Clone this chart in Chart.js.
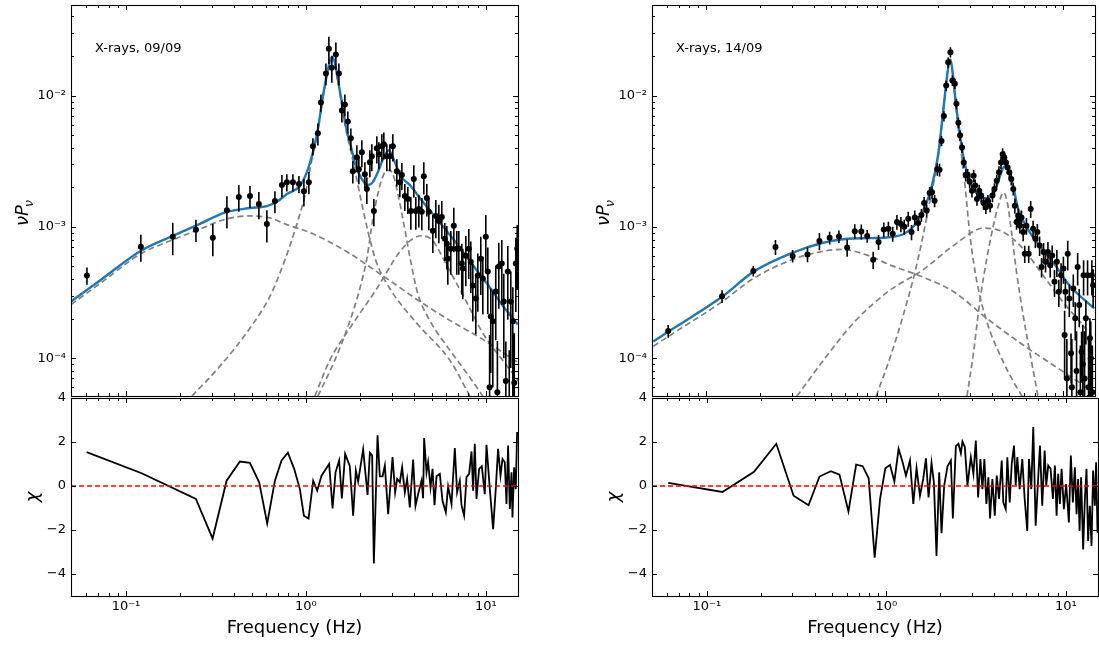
<!DOCTYPE html>
<html>
<head>
<meta charset="utf-8">
<script src="https://cdn.jsdelivr.net/npm/chart.js@4.4.1/dist/chart.umd.min.js"></script>
<style>
  html, body { margin: 0; padding: 0; background: #fff; }
  #figure { position: relative; width: 1099px; height: 648px; overflow: hidden; }
  #figure canvas { position: absolute; }
</style>
</head>
<body>
<div id="figure">
  <canvas id="left-top" width="540" height="400" style="left:0;top:0"></canvas>
  <canvas id="left-bottom" width="540" height="268" style="left:0;top:380px"></canvas>
  <canvas id="right-top" width="518" height="400" style="left:581px;top:0"></canvas>
  <canvas id="right-bottom" width="518" height="268" style="left:581px;top:380px"></canvas>
</div>
<script>
// Power spectra (top) with model components, and fit residuals (bottom), two X-ray epochs.
const FREQ_MIN = 0.0495;
const FREQ_MAX = 15.1;
const POWER_MIN = 5.15e-5;
const POWER_MAX = 0.0489;
const CHI_MIN = -5;
const CHI_MAX = 4;
const FONT = '"DejaVu Sans"';

const freqMajorTicks = [0.1, 1, 10];
const freqMajorLabels = ['10⁻¹', '10⁰', '10¹'];
const freqMinorTicks = [0.06, 0.07, 0.08, 0.09, 0.2, 0.3, 0.4, 0.5, 0.6, 0.7, 0.8, 0.9, 2, 3, 4, 5, 6, 7, 8, 9];
const powerMajorTicks = [1e-4, 1e-3, 1e-2];
const powerMajorLabels = ['10⁻⁴', '10⁻³', '10⁻²'];
const powerMinorTicks = [6e-5, 7e-5, 8e-5, 9e-5, 2e-4, 3e-4, 4e-4, 5e-4, 6e-4, 7e-4, 8e-4, 9e-4,
    2e-3, 3e-3, 4e-3, 5e-3, 6e-3, 7e-3, 8e-3, 9e-3, 2e-2, 3e-2, 4e-2];
const chiTicks = [-4, -2, 0, 2, 4];
const chiLabels = ['−4', '−2', '0', '2', '4'];
const zeroLineFreq = [FREQ_MIN, FREQ_MAX];
const zeroLine = [0, 0];

// ---- 09/09 ----
const leftFreq = [0.0607, 0.121, 0.182, 0.245, 0.304, 0.364, 0.424, 0.489, 0.548, 0.607,
    0.673, 0.736, 0.784, 0.847, 0.915, 0.975, 1.039, 1.094, 1.166, 1.212,
    1.292, 1.342, 1.394, 1.468, 1.526, 1.585, 1.647, 1.711, 1.778, 1.824,
    1.920, 1.970, 2.047, 2.127, 2.182, 2.268, 2.326, 2.387, 2.480, 2.545,
    2.644, 2.712, 2.818, 2.929, 3.043, 3.203, 3.328, 3.415, 3.548, 3.687,
    3.831, 3.981, 4.084, 4.244, 4.410, 4.524, 4.700, 4.823, 5.076, 5.275,
    5.482, 5.695, 5.918, 6.072, 6.150, 6.390, 6.640, 6.900, 7.079, 7.356,
    7.450, 7.743, 8.045, 8.254, 8.468, 8.799, 9.027, 9.380, 9.624, 10.0,
    10.26, 10.5, 10.66, 10.94, 11.36, 11.6, 11.81, 12.27, 12.59, 12.92,
    13.25, 13.5, 13.77, 14.13, 14.4, 14.68, 14.95];
const leftPower = [4.26e-4, 7.05e-4, 8.40e-4, 9.49e-4, 8.26e-4, 1.34e-3, 1.69e-3, 1.72e-3, 1.49e-3, 1.05e-3,
    1.57e-3, 2.08e-3, 2.19e-3, 2.19e-3, 2.12e-3, 1.87e-3, 2.19e-3, 4.11e-3, 5.15e-3, 8.85e-3,
    1.47e-2, 2.27e-2, 1.63e-2, 2.05e-2, 1.47e-2, 7.70e-3, 8.55e-3, 6.35e-3, 4.72e-3, 2.65e-3,
    3.39e-3, 2.75e-3, 3.70e-3, 2.52e-3, 1.94e-3, 3.11e-3, 3.45e-3, 1.32e-3, 3.97e-3, 3.57e-3,
    4.11e-3, 4.25e-3, 3.45e-3, 3.45e-3, 4.11e-3, 2.65e-3, 2.19e-3, 2.48e-3, 1.72e-3, 1.63e-3,
    1.32e-3, 2.31e-3, 1.32e-3, 1.37e-3, 1.30e-3, 2.43e-3, 1.66e-3, 1.30e-3, 9.33e-4, 1.21e-3,
    1.11e-3, 1.19e-3, 8.11e-4, 7.43e-4, 5.72e-4, 6.81e-4, 1.02e-3, 6.81e-4, 6.81e-4, 5.25e-4,
    4.81e-4, 6.03e-4, 6.81e-4, 5.43e-4, 3.57e-4, 2.85e-4, 4.26e-4, 5.72e-4, 4.04e-4, 8.40e-4,
    4.56e-4, 6.0e-5, 2.08e-4, 1.91e-4, 3.22e-4, 5.5e-5, 4.98e-4, 5.25e-4, 2.70e-4, 6.70e-5,
    4.56e-4, 4.5e-5, 2.70e-4, 1.91e-4, 6.5e-5, 5.25e-4, 6.81e-4];
const leftError = [6.4e-5, 1.64e-4, 2.33e-4, 1.81e-4, 2.29e-4, 3.7e-4, 3.9e-4, 3.3e-4, 3.5e-4, 2.9e-4,
    3.0e-4, 4.0e-4, 3.3e-4, 3.3e-4, 3.2e-4, 4.4e-4, 4.2e-4, 6.2e-4, 9.8e-4, 1.33e-3,
    2.8e-3, 5.3e-3, 3.8e-3, 4.8e-3, 2.8e-3, 1.47e-3, 1.63e-3, 1.21e-3, 9.0e-4, 5.1e-4,
    7.9e-4, 6.4e-4, 8.6e-4, 5.9e-4, 4.5e-4, 7.2e-4, 8.0e-4, 3.1e-4, 9.3e-4, 8.3e-4,
    9.6e-4, 9.9e-4, 8.0e-4, 8.0e-4, 9.6e-4, 6.2e-4, 5.1e-4, 5.8e-4, 4.0e-4, 3.8e-4,
    3.7e-4, 6.4e-4, 3.7e-4, 3.8e-4, 3.6e-4, 6.7e-4, 4.6e-4, 3.6e-4, 3.0e-4, 3.9e-4,
    3.6e-4, 3.8e-4, 2.6e-4, 2.7e-4, 2.1e-4, 2.5e-4, 3.8e-4, 2.5e-4, 2.5e-4, 2.2e-4,
    2.0e-4, 2.5e-4, 2.8e-4, 2.3e-4, 1.67e-4, 1.33e-4, 2.0e-4, 2.7e-4, 1.89e-4, 3.9e-4,
    2.4e-4, 9.0e-5, 1.31e-4, 1.31e-4, 1.85e-4, 8.0e-5, 2.6e-4, 2.7e-4, 1.70e-4, 6.7e-5,
    2.6e-4, 7.0e-5, 1.86e-4, 1.55e-4, 9.0e-5, 3.0e-4, 3.5e-4];

const leftModelFreq = [0.0495, 0.0717, 0.1211, 0.1824, 0.2448, 0.3640, 0.4885, 0.6070, 0.6898, 0.7843,
    0.926, 1.013, 1.094, 1.166, 1.243, 1.325, 1.394, 1.449, 1.506, 1.585,
    1.668, 1.778, 1.896, 2.047, 2.209, 2.357, 2.512, 2.679, 2.818, 2.891,
    2.967, 3.124, 3.328, 3.781, 4.466, 5.343, 6.310, 7.450, 8.924, 10.53, 12.39, 15.06];
const leftModel = [2.70e-4, 3.90e-4, 6.58e-4, 8.55e-4, 1.02e-3, 1.30e-3, 1.39e-3, 1.44e-3, 1.55e-3, 1.78e-3,
    2.05e-3, 2.61e-3, 3.70e-3, 5.53e-3, 9.83e-3, 1.57e-2, 1.97e-2, 1.78e-2, 1.32e-2, 8.85e-3,
    5.82e-3, 4.11e-3, 2.90e-3, 2.31e-3, 2.08e-3, 2.19e-3, 2.61e-3, 3.27e-3, 3.70e-3, 3.83e-3,
    3.64e-3, 3.11e-3, 2.48e-3, 2.08e-3, 1.55e-3, 1.15e-3, 8.70e-4, 6.47e-4, 4.65e-4, 3.45e-4, 2.52e-4, 1.81e-4];
const leftBroadFreq = [0.0495, 0.0717, 0.1211, 0.1824, 0.2448, 0.3640, 0.4885, 0.631, 0.7843, 1.094,
    1.690, 2.209, 2.929, 4.137, 6.310, 9.624, 15.2];
const leftBroad = [2.56e-4, 3.70e-4, 6.24e-4, 7.97e-4, 9.33e-4, 1.15e-3, 1.21e-3, 1.17e-3, 1.04e-3, 8.85e-4,
    6.47e-4, 5.07e-4, 3.90e-4, 2.80e-4, 1.94e-4, 1.39e-4, 9.17e-5];
const leftQpo1Freq = [0.2326, 0.3331, 0.4885, 0.631, 0.7264, 0.8149, 0.926, 0.987, 1.094, 1.166,
    1.243, 1.325, 1.394, 1.449, 1.506, 1.585, 1.668, 1.778, 1.896, 2.047,
    2.209, 2.448, 2.929, 4.137, 6.310, 8.148];
const leftQpo1 = [5.15e-5, 8.69e-5, 1.69e-4, 2.95e-4, 4.64e-4, 7.18e-4, 1.25e-3, 1.72e-3, 3.57e-3, 5.43e-3,
    9.48e-3, 1.52e-2, 1.91e-2, 1.72e-2, 1.28e-2, 8.40e-3, 5.53e-3, 3.77e-3, 2.48e-3, 1.49e-3,
    9.33e-4, 5.53e-4, 3.39e-4, 1.84e-4, 9.66e-5, 5.15e-5];
const leftQpo2Freq = [1.166, 1.449, 1.754, 1.995, 2.182, 2.357, 2.512, 2.644, 2.780, 2.929,
    3.085, 3.247, 3.503, 3.781, 4.184, 4.878, 6.310, 7.834, 9.624];
const leftQpo2 = [5.15e-5, 9.66e-5, 1.91e-4, 3.39e-4, 5.73e-4, 1.15e-3, 1.78e-3, 2.31e-3, 2.65e-3, 2.70e-3,
    2.39e-3, 1.78e-3, 1.05e-3, 5.93e-4, 3.11e-4, 1.94e-4, 1.15e-4, 7.70e-5, 5.15e-5];
const leftHumpFreq = [1.122, 1.359, 1.754, 2.481, 3.328, 3.924, 4.410, 5.076, 6.072, 7.638, 9.624, 12.39, 15.2];
const leftHump = [5.15e-5, 9.66e-5, 1.69e-4, 3.39e-4, 6.47e-4, 8.11e-4, 8.55e-4, 7.83e-4, 5.07e-4, 2.85e-4,
    1.55e-4, 9.66e-5, 6.70e-5];

const leftChiFreq = [0.0605, 0.1222, 0.2448, 0.3031, 0.3626, 0.4299, 0.4885, 0.5502, 0.6095, 0.6727,
    0.7328, 0.7943, 0.8610, 0.9261, 0.9747, 1.035, 1.098, 1.156, 1.222, 1.347,
    1.407, 1.462, 1.531, 1.585, 1.653, 1.755, 1.831, 1.896, 1.952, 2.081,
    2.202, 2.268, 2.335, 2.387, 2.502, 2.577, 2.668, 2.747, 2.866, 3.032,
    3.134, 3.216, 3.328, 3.428, 3.548, 3.654, 3.782, 3.946, 4.068, 4.205,
    4.393, 4.484, 4.542, 4.683, 4.780, 4.930, 5.057, 5.188, 5.322, 5.552,
    5.747, 5.995, 6.174, 6.448, 6.726, 6.927, 7.170, 7.328, 7.576, 7.814,
    8.077, 8.330, 8.500, 8.687, 8.878, 9.180, 9.501, 9.872, 10.09, 10.53,
    10.98, 11.36, 11.70, 12.07, 12.38, 12.75, 13.03, 13.30, 13.60, 13.90,
    14.07, 14.37, 14.68, 14.93];
const leftChi = [1.54, 0.58, -0.59, -2.39, 0.24, 1.11, 1.05, 0.17, -1.70, 0.24,
    1.16, 1.51, 0.78, -0.14, -1.35, -1.48, 0.24, -0.21, 0.47, 1.0,
    -1.02, 0.62, 1.16, -0.56, 1.46, 0.9, -1.35, 0.7, 0.2, 1.66,
    -0.41, 1.51, 1.39, -3.52, 2.30, 0.44, 0.44, 0.93, -1.28, 1.31,
    -0.29, 0.32, 0.17, 0.85, -0.29, 0.32, -0.97, 1.2, -0.9, -0.37,
    0.24, -0.56, 2.18, 0.62, 1.08, -0.06, 0.78, -0.87, 0.44, 0.55,
    -0.67, -1.2, -0.02, -0.82, 1.72, -0.29, 0.24, -0.87, -1.35, 0.40,
    0.55, 1.57, -0.21, 1.92, -0.59, 0.78, 0.9, -0.37, 1.87, -0.14,
    -1.96, -0.14, 1.69, 0.47, 1.23, 1.08, -0.82, 1.84, -1.05, 0.62,
    -1.43, 0.85, -0.14, 2.45];

// ---- 14/09 ----
const rightFreq = [0.0610, 0.1223, 0.1832, 0.2438, 0.3043, 0.3687, 0.4300, 0.4907, 0.5533, 0.6151,
    0.6788, 0.7386, 0.7975, 0.8610, 0.9226, 0.9872, 1.048, 1.108, 1.170, 1.232,
    1.286, 1.354, 1.413, 1.473, 1.539, 1.605, 1.662, 1.718, 1.785, 1.841,
    1.903, 1.970, 2.029, 2.081, 2.146, 2.210, 2.268, 2.335, 2.395, 2.471,
    2.522, 2.587, 2.644, 2.712, 2.772, 2.844, 2.917, 2.993, 3.083, 3.150,
    3.216, 3.287, 3.384, 3.472, 3.580, 3.687, 3.782, 3.896, 4.017, 4.121,
    4.244, 4.370, 4.484, 4.582, 4.683, 4.779, 4.885, 4.992, 5.121, 5.255,
    5.363, 5.482, 5.602, 5.718, 5.844, 5.972, 6.095, 6.229, 6.416, 6.582,
    6.789, 6.991, 7.172, 7.385, 7.576, 7.773, 7.974, 8.222, 8.468, 8.687,
    8.948, 9.226, 9.465, 9.747, 10.04, 10.2, 10.30, 10.5, 10.62, 10.84,
    11.08, 11.2, 11.41, 11.70, 11.9, 12.07, 12.32, 12.5, 12.70, 12.9,
    13.03, 13.2, 13.42, 13.72, 13.9, 14.0, 14.13, 14.3, 14.50, 14.6, 14.74];
const rightPower = [1.61e-4, 2.96e-4, 4.61e-4, 7.02e-4, 6.00e-4, 6.17e-4, 7.80e-4, 8.26e-4, 8.45e-4, 6.97e-4,
    9.27e-4, 9.20e-4, 8.51e-4, 5.62e-4, 7.66e-4, 9.54e-4, 9.66e-4, 8.85e-4, 1.09e-3, 1.05e-3,
    1.00e-3, 1.15e-3, 9.12e-4, 1.18e-3, 1.07e-3, 1.23e-3, 1.52e-3, 1.33e-3, 1.81e-3, 1.83e-3,
    1.58e-3, 2.75e-3, 2.72e-3, 4.51e-3, 6.97e-3, 1.19e-2, 1.79e-2, 2.14e-2, 1.30e-2, 1.23e-2,
    8.65e-3, 6.21e-3, 4.98e-3, 4.02e-3, 3.09e-3, 2.48e-3, 2.49e-3, 2.20e-3, 1.88e-3, 2.45e-3,
    2.06e-3, 1.63e-3, 1.88e-3, 1.73e-3, 1.52e-3, 1.41e-3, 1.58e-3, 1.45e-3, 1.73e-3, 1.94e-3,
    2.24e-3, 2.60e-3, 3.09e-3, 3.57e-3, 3.37e-3, 3.09e-3, 2.83e-3, 2.60e-3, 2.31e-3, 1.94e-3,
    1.45e-3, 1.09e-3, 1.22e-3, 1.02e-3, 1.18e-3, 9.12e-4, 6.24e-4, 1.02e-3, 6.24e-4, 1.37e-3,
    9.66e-4, 8.11e-4, 9.12e-4, 7.22e-4, 4.95e-4, 6.43e-4, 5.41e-4, 6.43e-4, 5.09e-4, 6.06e-4,
    3.81e-4, 5.41e-4, 3.20e-4, 4.28e-4, 4.81e-4, 1.5e-4, 3.20e-4, 7.0e-5, 6.24e-4, 2.85e-4,
    1.09e-4, 6.0e-5, 3.39e-4, 2.01e-4, 8.0e-5, 4.95e-4, 2.54e-4, 5.5e-5, 1.12e-4, 9.0e-5,
    4.28e-4, 7.0e-5, 2.01e-4, 4.28e-4, 6.0e-5, 5.0e-5, 1.42e-4, 1.0e-4, 4.28e-4, 5.5e-5, 3.59e-4];
const rightError = [1.8e-5, 3.3e-5, 4.2e-5, 9.1e-5, 6.6e-5, 8.0e-5, 1.17e-4, 9.1e-5, 9.3e-5, 1.05e-4,
    1.2e-4, 1.2e-4, 9.4e-5, 8.4e-5, 1.0e-4, 1.24e-4, 1.26e-4, 1.15e-4, 1.4e-4, 1.4e-4,
    1.3e-4, 1.5e-4, 1.2e-4, 1.5e-4, 1.4e-4, 1.35e-4, 1.7e-4, 1.5e-4, 2.0e-4, 2.0e-4,
    1.7e-4, 3.0e-4, 3.0e-4, 4.1e-4, 6.3e-4, 1.08e-3, 1.6e-3, 1.9e-3, 1.2e-3, 1.1e-3,
    7.9e-4, 5.7e-4, 4.5e-4, 3.7e-4, 2.8e-4, 2.7e-4, 2.7e-4, 2.4e-4, 2.1e-4, 2.7e-4,
    2.3e-4, 1.8e-4, 2.1e-4, 1.9e-4, 1.7e-4, 1.55e-4, 1.7e-4, 1.6e-4, 1.9e-4, 2.1e-4,
    2.5e-4, 2.9e-4, 3.4e-4, 3.9e-4, 3.7e-4, 3.4e-4, 3.1e-4, 2.9e-4, 2.5e-4, 2.1e-4,
    1.9e-4, 1.4e-4, 1.6e-4, 1.3e-4, 1.5e-4, 1.37e-4, 9.4e-5, 1.5e-4, 9.4e-5, 2.0e-4,
    1.45e-4, 1.2e-4, 1.37e-4, 1.23e-4, 8.4e-5, 1.1e-4, 9.2e-5, 1.23e-4, 9.7e-5, 1.16e-4,
    8.9e-5, 1.26e-4, 7.5e-5, 1.0e-4, 1.12e-4, 8.0e-5, 8.1e-5, 7.0e-5, 1.58e-4, 7.9e-5,
    4.5e-5, 8.0e-5, 9.4e-5, 6.5e-5, 8.0e-5, 1.37e-4, 8.2e-5, 7.0e-5, 4.7e-5, 9.0e-5,
    1.28e-4, 9.0e-5, 7.4e-5, 1.28e-4, 8.0e-5, 7.0e-5, 5.9e-5, 9.0e-5, 1.28e-4, 7.0e-5, 1.16e-4];

const rightModelFreq = [0.0503, 0.0610, 0.1223, 0.1832, 0.3043, 0.4300, 0.6151, 0.8391, 1.084, 1.286,
    1.462, 1.626, 1.771, 1.912, 2.013, 2.100, 2.191, 2.288, 2.335, 2.417,
    2.490, 2.600, 2.712, 2.891, 3.150, 3.580, 3.896, 4.244, 4.624, 4.823,
    5.140, 5.602, 6.499, 8.767, 10.84, 14.93];
const rightModel = [1.34e-4, 1.59e-4, 2.93e-4, 4.54e-4, 6.35e-4, 7.43e-4, 8.11e-4, 8.20e-4, 8.35e-4, 8.85e-4,
    1.02e-3, 1.29e-3, 1.73e-3, 2.60e-3, 3.90e-3, 6.58e-3, 1.11e-2, 1.77e-2, 1.88e-2, 1.40e-2,
    9.33e-3, 5.85e-3, 3.90e-3, 2.60e-3, 1.94e-3, 1.65e-3, 1.68e-3, 2.06e-3, 2.83e-3, 2.91e-3,
    2.31e-3, 1.37e-3, 9.12e-4, 5.41e-4, 3.59e-4, 2.39e-4];
const rightBroadFreq = [0.0503, 0.0610, 0.1223, 0.1832, 0.3043, 0.4300, 0.5720, 0.8046, 1.084, 1.626,
    2.437, 3.733, 5.970, 9.953, 14.89];
const rightBroad = [1.23e-4, 1.46e-4, 2.69e-4, 4.04e-4, 5.65e-4, 6.43e-4, 6.73e-4, 6.06e-4, 5.09e-4, 4.16e-4,
    3.20e-4, 2.01e-4, 1.26e-4, 7.93e-5, 5.52e-5];
const rightQpo1Freq = [0.8948, 1.084, 1.286, 1.462, 1.626, 1.771, 1.912, 2.013, 2.100, 2.191,
    2.288, 2.335, 2.417, 2.490, 2.600, 2.712, 2.830, 3.020, 3.287, 3.733,
    4.426, 5.255, 5.970];
const rightQpo1 = [5.13e-5, 1.06e-4, 2.26e-4, 4.28e-4, 8.11e-4, 1.45e-3, 2.45e-3, 3.79e-3, 6.35e-3, 1.07e-2,
    1.72e-2, 1.81e-2, 1.35e-2, 8.81e-3, 5.22e-3, 3.27e-3, 1.94e-3, 8.11e-4, 3.81e-4, 1.90e-4,
    1.06e-4, 6.65e-5, 4.98e-5];
const rightHumpFreq = [0.3215, 0.4624, 0.6788, 1.039, 1.626, 2.437, 3.580, 4.624, 5.970, 7.711, 9.953, 12.86, 15.09];
const rightHump = [5.13e-5, 1.0e-4, 1.90e-4, 3.20e-4, 4.67e-4, 7.22e-4, 9.77e-4, 9.12e-4, 6.81e-4, 4.28e-4,
    2.69e-4, 1.79e-4, 1.34e-4];
const rightQpo2Freq = [2.891, 3.150, 3.431, 3.733, 4.063, 4.334, 4.624, 4.866, 5.140, 5.482, 5.970, 6.499, 7.234];
const rightQpo2 = [5.13e-5, 1.12e-4, 2.85e-4, 5.73e-4, 1.02e-3, 1.45e-3, 1.83e-3, 1.54e-3, 9.12e-4, 4.54e-4,
    2.13e-4, 1.12e-4, 5.13e-5];

const rightChiFreq = [0.0610, 0.1222, 0.1832, 0.2438, 0.3043, 0.3687, 0.4244, 0.4904, 0.5482, 0.6151,
    0.6788, 0.7385, 0.7973, 0.8610, 0.9226, 0.9872, 1.048, 1.108, 1.170, 1.232,
    1.286, 1.354, 1.413, 1.473, 1.539, 1.605, 1.662, 1.718, 1.785, 1.841,
    1.903, 1.970, 2.029, 2.100, 2.191, 2.288, 2.347, 2.439, 2.522, 2.600,
    2.654, 2.737, 2.830, 2.956, 3.055, 3.150, 3.245, 3.342, 3.428, 3.517,
    3.608, 3.701, 3.782, 3.896, 4.017, 4.121, 4.244, 4.393, 4.484, 4.624,
    4.720, 4.866, 4.992, 5.140, 5.255, 5.363, 5.531, 5.718, 5.896, 6.095,
    6.229, 6.416, 6.582, 6.789, 6.991, 7.172, 7.385, 7.616, 7.773, 7.974,
    8.222, 8.468, 8.687, 8.878, 9.062, 9.261, 9.465, 9.747, 10.04, 10.39,
    10.66, 10.94, 11.22, 11.47, 11.70, 11.92, 12.16, 12.48, 12.75, 13.03,
    13.30, 13.60, 13.90, 14.18, 14.50, 14.74, 15.01];
const rightChi = [0.14, -0.27, 0.65, 1.92, -0.44, -0.87, 0.43, 0.67, 0.52, -1.16,
    0.97, 0.90, 0.35, -3.26, -0.59, 0.81, 0.96, 0.20, 1.69, 1.08,
    0.47, 1.16, -0.82, 0.81, -0.44, 0.32, 1.26, -0.52, 1.05, 0.14,
    -3.18, 0.62, -2.15, 0.02, 0.90, 1.16, -1.48, 1.81, 1.92, 1.49,
    2.02, 1.77, 0.02, 1.31, 0.55, 2.07, -0.52, 1.23, -0.14, 1.23,
    -0.82, 0.40, -1.48, 0.32, -1.35, 0.47, -0.59, 1.16, -0.75, -1.05,
    1.31, -0.75, 1.00, 1.84, 0.02, 1.31, -0.14, 1.23, -0.59, -2.04,
    1.23, -0.14, 2.68, -1.81, 0.17, 1.84, -0.90, 1.61, 0.02, 0.93,
    0.78, -0.59, 0.93, -1.35, 0.55, -0.82, 0.78, -1.05, 0.09, -1.66,
    1.39, -0.75, 0.85, -1.28, 0.32, -2.04, 0.40, -2.88, -0.67, 0.78,
    -2.50, -0.90, -2.72, 0.70, -0.90, 1.08, -2.12];

function toPoints(xs, ys) {
    return xs.map((x, i) => ({ x, y: ys[i] }));
}

function curve(xs, ys, color, width, dash, order, smooth) {
    return {
        type: 'line',
        data: toPoints(xs, ys),
        borderColor: color,
        borderWidth: width,
        borderDash: dash,
        pointRadius: 0,
        fill: false,
        tension: 0,
        cubicInterpolationMode: smooth ? 'monotone' : 'default',
        order,
        clip: 0
    };
}

// Vertical error bars under the data markers, through the y scale.
const errorBarPlugin = {
    id: 'errorBars',
    beforeDatasetDraw(chart, args) {
        const ds = chart.data.datasets[args.index];
        if (!ds.errors) return;
        const { ctx, chartArea: area } = chart;
        const yScale = chart.scales[args.meta.yAxisID];
        ctx.save();
        ctx.beginPath();
        ctx.rect(area.left, area.top, area.right - area.left, area.bottom - area.top);
        ctx.clip();
        ctx.strokeStyle = '#000';
        ctx.lineWidth = 1.6;
        ctx.beginPath();
        args.meta.data.forEach((pt, i) => {
            const value = ds.data[i].y;
            const err = ds.errors[i];
            const upper = yScale.getPixelForValue(value + err);
            const lower = value - err > 0 ? yScale.getPixelForValue(value - err) : area.bottom + 5;
            ctx.moveTo(pt.x, lower);
            ctx.lineTo(pt.x, upper);
        });
        ctx.stroke();
        ctx.restore();
    }
};

// Box around the axes with inward ticks on all four sides.
const framePlugin = {
    id: 'frame',
    afterDatasetsDraw(chart, args, opts) {
        const { ctx, chartArea: area, scales } = chart;
        const xs = scales.x;
        const ys = scales.y;
        const yMajor = opts.panel === 'power' ? powerMajorTicks : chiTicks;
        const yMinor = opts.panel === 'power' ? powerMinorTicks : [];
        ctx.save();
        ctx.strokeStyle = '#000';
        ctx.lineWidth = 1;
        ctx.beginPath();
        const xTick = (v, len) => {
            const p = xs.getPixelForValue(v);
            if (p < area.left + 1 || p > area.right - 1) return;
            const px = Math.round(p) + 0.5;
            ctx.moveTo(px, area.bottom);
            ctx.lineTo(px, area.bottom - len);
            ctx.moveTo(px, area.top);
            ctx.lineTo(px, area.top + len);
        };
        const yTick = (v, len) => {
            const p = ys.getPixelForValue(v);
            if (p < area.top + 1 || p > area.bottom - 1) return;
            const py = Math.round(p) + 0.5;
            ctx.moveTo(area.left, py);
            ctx.lineTo(area.left + len, py);
            ctx.moveTo(area.right, py);
            ctx.lineTo(area.right - len, py);
        };
        freqMajorTicks.forEach(v => xTick(v, 5));
        freqMinorTicks.forEach(v => xTick(v, 3));
        yMajor.forEach(v => yTick(v, 5));
        yMinor.forEach(v => yTick(v, 3));
        ctx.stroke();
        ctx.lineWidth = 1.1;
        ctx.strokeRect(Math.round(area.left) + 0.5, Math.round(area.top) + 0.5,
            Math.round(area.right - area.left), Math.round(area.bottom - area.top));
        ctx.restore();
    }
};

// Panel note and the y-axis labels (with the subscript).
const labelPlugin = {
    id: 'panelLabels',
    afterDraw(chart, args, opts) {
        const { ctx, chartArea: area } = chart;
        ctx.save();
        ctx.fillStyle = '#000';
        if (opts.note) {
            ctx.font = '13px ' + FONT;
            ctx.textAlign = 'left';
            ctx.textBaseline = 'middle';
            ctx.fillText(opts.note, area.left + 24, area.top + 44);
        }
        if (opts.panel === 'power') {
            ctx.translate(28, 212);
            ctx.rotate(-Math.PI / 2);
            ctx.textBaseline = 'alphabetic';
            ctx.font = 'italic 18px ' + FONT;
            const mainWidth = ctx.measureText('νP').width;
            ctx.font = 'italic 12.6px ' + FONT;
            const subWidth = ctx.measureText('ν').width;
            const start = -(mainWidth + subWidth) / 2;
            ctx.font = 'italic 18px ' + FONT;
            ctx.fillText('νP', start, 0);
            ctx.font = 'italic 12.6px ' + FONT;
            ctx.fillText('ν', start + mainWidth - 2, 4.5);
        } else if (opts.panel === 'chi') {
            ctx.translate(38, (area.top + area.bottom) / 2);
            ctx.rotate(-Math.PI / 2);
            ctx.textAlign = 'center';
            ctx.textBaseline = 'alphabetic';
            ctx.font = 'italic 18px ' + FONT;
            ctx.fillText('χ', 0, 0);
        }
        ctx.restore();
    }
};

function fixSize(axis, width, height) {
    if (width !== null) axis.width = width;
    if (height !== null) axis.height = height;
    axis.paddingTop = 0;
    axis.paddingBottom = 0;
    axis.paddingLeft = 0;
    axis.paddingRight = 0;
}

function freqScale(showLabels) {
    return {
        type: 'logarithmic',
        min: FREQ_MIN,
        max: FREQ_MAX,
        bounds: 'data',
        display: showLabels,
        grid: { display: false, drawTicks: false },
        border: { display: false },
        afterBuildTicks: axis => { axis.ticks = freqMajorTicks.map(value => ({ value })); },
        ticks: {
            autoSkip: false,
            maxRotation: 0,
            padding: 3,
            color: '#000',
            font: { family: 'DejaVu Sans', size: 13 },
            callback: v => freqMajorLabels[freqMajorTicks.indexOf(v)]
        },
        title: {
            display: showLabels,
            text: 'Frequency (Hz)',
            color: '#000',
            font: { family: 'DejaVu Sans', size: 18 },
            padding: { top: 0, bottom: 9 }
        },
        afterFit: axis => fixSize(axis, null, showLabels ? 52 : 0)
    };
}

function powerScale() {
    return {
        type: 'logarithmic',
        min: POWER_MIN,
        max: POWER_MAX,
        bounds: 'data',
        grid: { display: false, drawTicks: false },
        border: { display: false },
        afterBuildTicks: axis => { axis.ticks = powerMajorTicks.map(value => ({ value })); },
        ticks: {
            autoSkip: false,
            padding: 5,
            color: '#000',
            font: { family: 'DejaVu Sans', size: 13 },
            callback: v => powerMajorLabels[powerMajorTicks.indexOf(v)]
        },
        afterFit: axis => fixSize(axis, 71, null)
    };
}

function chiScale() {
    return {
        type: 'linear',
        min: CHI_MIN,
        max: CHI_MAX,
        bounds: 'data',
        grid: { display: false, drawTicks: false },
        border: { display: false },
        afterBuildTicks: axis => { axis.ticks = chiTicks.map(value => ({ value })); },
        ticks: {
            autoSkip: false,
            padding: 5,
            color: '#000',
            font: { family: 'DejaVu Sans', size: 13 },
            callback: v => chiLabels[chiTicks.indexOf(v)]
        },
        afterFit: axis => fixSize(axis, 71, null)
    };
}

function baseOptions(padding, panel, note) {
    return {
        responsive: false,
        animation: false,
        devicePixelRatio: 1,
        events: [],
        layout: { padding },
        plugins: {
            legend: { display: false },
            tooltip: { enabled: false },
            frame: { panel },
            panelLabels: { panel, note }
        }
    };
}

function makeSpectrum(id, rightPad, note, s) {
    const options = baseOptions({ top: 5, right: rightPad, bottom: 2, left: 0 }, 'power', note);
    options.scales = { x: freqScale(false), y: powerScale() };
    new Chart(document.getElementById(id), {
        type: 'line',
        data: {
            datasets: [
                {
                    type: 'scatter',
                    data: toPoints(s.freq, s.power),
                    errors: s.error,
                    showLine: false,
                    pointRadius: 3,
                    pointBackgroundColor: '#000',
                    pointBorderWidth: 0,
                    order: 0,
                    clip: 0
                },
                curve(s.modelFreq, s.model, '#1f77b4', 2.4, [], 1, true),
                curve(s.broadFreq, s.broad, '#808080', 1.7, [6, 3.5], 2, true),
                curve(s.qpo1Freq, s.qpo1, '#808080', 1.7, [6, 3.5], 2, true),
                curve(s.qpo2Freq, s.qpo2, '#808080', 1.7, [6, 3.5], 2, true),
                curve(s.humpFreq, s.hump, '#808080', 1.7, [6, 3.5], 2, true)
            ]
        },
        options,
        plugins: [errorBarPlugin, framePlugin, labelPlugin]
    });
}

function makeResiduals(id, rightPad, chiFreq, chi) {
    const options = baseOptions({ top: 18, right: rightPad, bottom: 0, left: 0 }, 'chi', '');
    options.scales = { x: freqScale(true), y: chiScale() };
    new Chart(document.getElementById(id), {
        type: 'line',
        data: {
            datasets: [
                curve(chiFreq, chi, '#000', 1.8, [], 1, false),
                curve(zeroLineFreq, zeroLine, '#ff0000', 1.4, [5, 3], 0, false)
            ]
        },
        options,
        plugins: [framePlugin, labelPlugin]
    });
}

makeSpectrum('left-top', 22, 'X-rays, 09/09', {
    freq: leftFreq, power: leftPower, error: leftError,
    modelFreq: leftModelFreq, model: leftModel,
    broadFreq: leftBroadFreq, broad: leftBroad,
    qpo1Freq: leftQpo1Freq, qpo1: leftQpo1,
    qpo2Freq: leftQpo2Freq, qpo2: leftQpo2,
    humpFreq: leftHumpFreq, hump: leftHump
});
makeResiduals('left-bottom', 22, leftChiFreq, leftChi);

makeSpectrum('right-top', 1, 'X-rays, 14/09', {
    freq: rightFreq, power: rightPower, error: rightError,
    modelFreq: rightModelFreq, model: rightModel,
    broadFreq: rightBroadFreq, broad: rightBroad,
    qpo1Freq: rightQpo1Freq, qpo1: rightQpo1,
    qpo2Freq: rightQpo2Freq, qpo2: rightQpo2,
    humpFreq: rightHumpFreq, hump: rightHump
});
makeResiduals('right-bottom', 1, rightChiFreq, rightChi);
</script>
</body>
</html>
